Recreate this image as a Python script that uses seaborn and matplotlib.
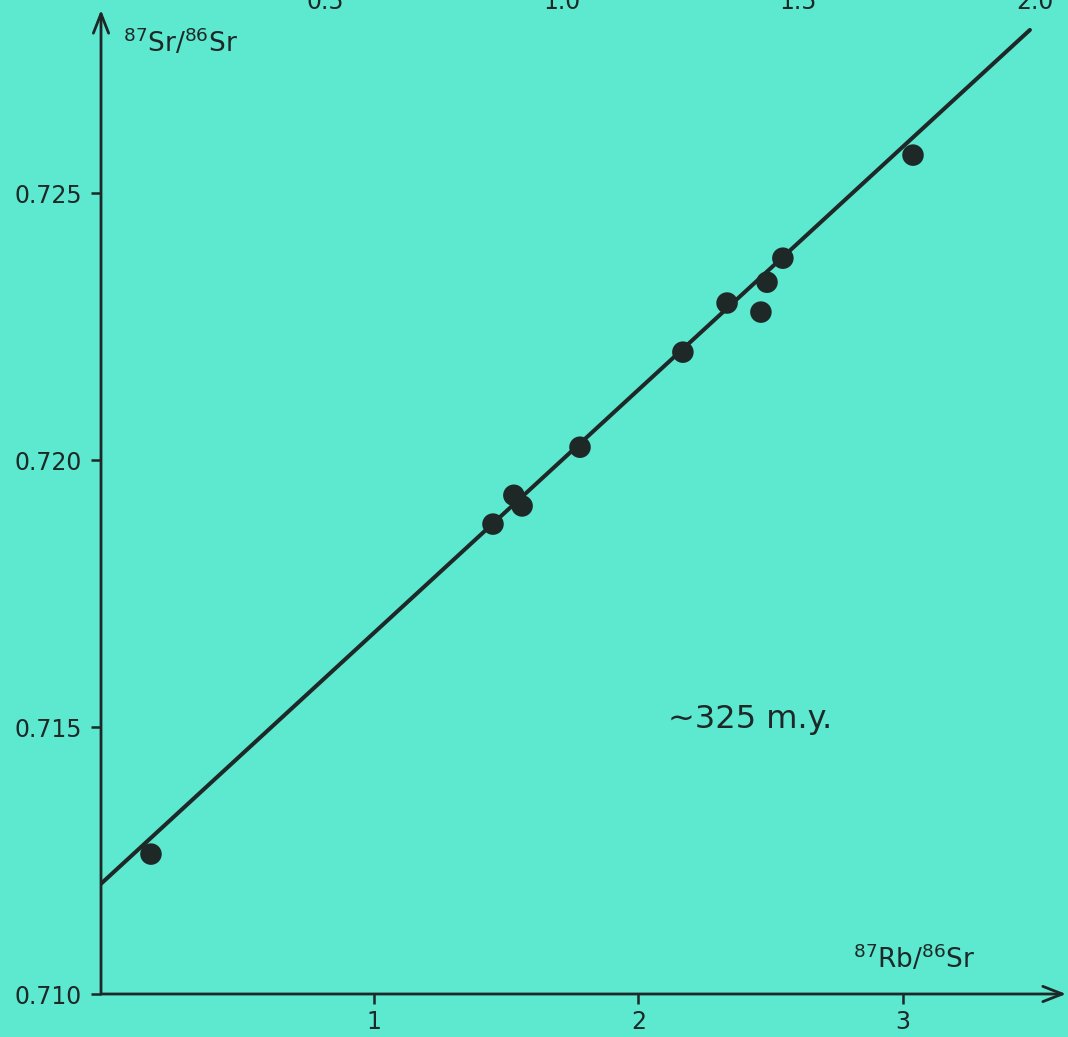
import numpy as np
import pandas as pd
import matplotlib
matplotlib.use("Agg")
import matplotlib.pyplot as plt
import seaborn as sns


# =====================================================
# DATA
# =====================================================

rb_sr = [0.157, 1.450, 1.529, 1.560, 1.779, 2.168, 2.335, 2.463, 2.486, 2.546, 3.038]

sr_sr = [0.71262, 0.71880, 0.71934, 0.71914, 0.72024, 0.72202,
         0.72294, 0.72277, 0.72333, 0.72378, 0.72571]

# isochron drawn through the points
isochron_intercept = 0.71221
isochron_slope = 0.004553
isochron_x = [-0.032, 3.48]

x_ticks = [1, 2, 3]
y_ticks = [0.710, 0.715, 0.720, 0.725]
y_tick_labels = ["0.710", "0.715", "0.720", "0.725"]

# cropped scale along the top edge
top_ticks = [0.5, 1.0, 1.5, 2.0]
top_tick_labels = ["0.5", "1.0", "1.5", "2.0"]

age_label = "~325 m.y."


# =====================================================
# STYLE
# =====================================================

BG = "#5de8d0"
INK = "#1d2827"

sns.set_style("ticks")
plt.rcParams["font.family"] = ["DejaVu Sans"]
plt.rcParams["mathtext.default"] = "regular"


fig = plt.figure(figsize=(10.68, 10.37), dpi=100)
fig.patch.set_facecolor(BG)

ax = fig.add_axes([101 / 1068, 43 / 1037, 967 / 1068, 994 / 1037])
ax.set_facecolor(BG)


# =====================================================
# ISOCHRON LINE + POINTS
# =====================================================

line_df = pd.DataFrame({"x": isochron_x})
line_df["y"] = isochron_intercept + isochron_slope * line_df["x"]

sns.lineplot(data=line_df, x="x", y="y", color=INK, lw=2.9, ax=ax, zorder=2)

pts = pd.DataFrame({"rb": rb_sr, "sr": sr_sr})

sns.scatterplot(data=pts, x="rb", y="sr", s=240, color=INK,
                edgecolor="none", ax=ax, zorder=3)


# =====================================================
# AXES
# =====================================================

ax.set_xlim(-0.032, 3.624)
ax.set_ylim(0.710, 0.728615)

for s in ax.spines.values():
    s.set_visible(False)

ax.set_xticks(x_ticks)
ax.set_xticklabels([str(t) for t in x_ticks])
ax.set_yticks(y_ticks)
ax.set_yticklabels(y_tick_labels)

ax.tick_params(axis="both", colors=INK, labelcolor=INK, labelsize=17,
               length=7.5, width=1.8, direction="out")
ax.tick_params(axis="x", pad=4)
ax.tick_params(axis="y", pad=6)

ax.set_xlabel("")
ax.set_ylabel("")

# axis lines with arrow heads
arrow = dict(arrowstyle="->,head_length=1.4,head_width=0.55",
             color=INK, lw=2.0, shrinkA=0, shrinkB=0)

ax.annotate("", xy=(0, 0.99), xytext=(0, 0), xycoords="axes fraction",
            textcoords="axes fraction", arrowprops=arrow, annotation_clip=False)

ax.annotate("", xy=(0.998, 0), xytext=(0, 0), xycoords="axes fraction",
            textcoords="axes fraction", arrowprops=arrow, annotation_clip=False)


# top scale (cut by the edge of the page, as in the original)
top = ax.secondary_xaxis("top", functions=(lambda x: (x + 0.08) / 1.79,
                                          lambda t: 1.79 * t - 0.08))
top.set_xticks(top_ticks)
top.set_xticklabels(top_tick_labels)
top.tick_params(length=0, pad=-10, labelsize=17, labelcolor=INK)
for s in top.spines.values():
    s.set_visible(False)


# =====================================================
# TEXT
# =====================================================

ax.text(0.023, 0.948, r"$^{87}$Sr/$^{86}$Sr", transform=ax.transAxes,
        fontsize=19, color=INK, ha="left", va="baseline")

ax.text(0.778, 0.026, r"$^{87}$Rb/$^{86}$Sr", transform=ax.transAxes,
        fontsize=19, color=INK, ha="left", va="baseline")

ax.text(2.11, 0.71515, age_label, fontsize=23, color=INK,
        ha="left", va="center")


plt.savefig("out.png", dpi=100, facecolor=BG)
plt.close()
